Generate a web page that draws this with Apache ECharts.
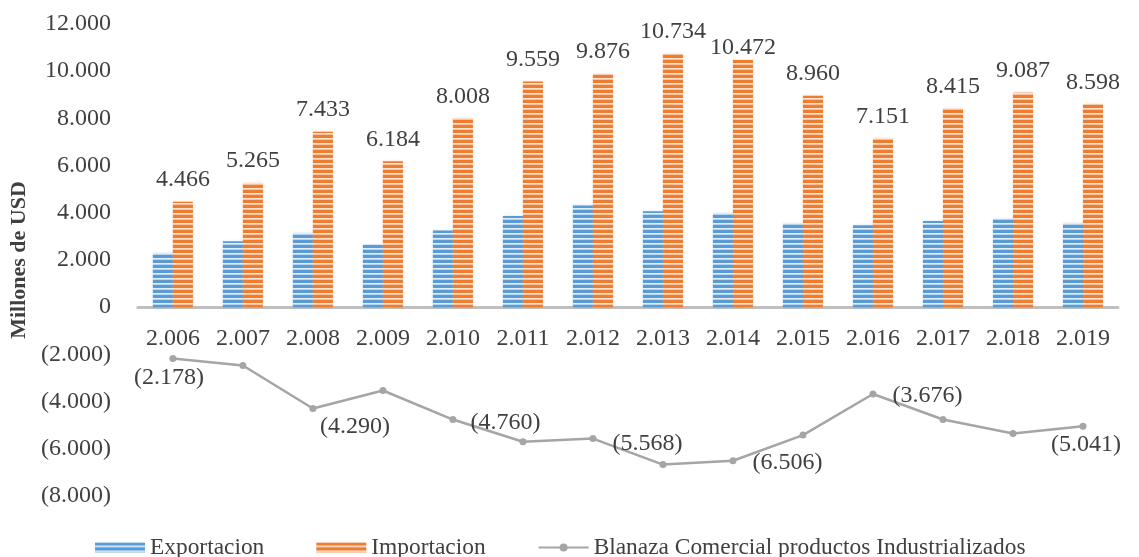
<!DOCTYPE html>
<html>
<head>
<meta charset="utf-8">
<script src="https://cdn.jsdelivr.net/npm/echarts@6/dist/echarts.min.js"></script>
<style>
html,body{margin:0;padding:0;background:#fff;}
#chart{width:1139px;height:557px;}
</style>
</head>
<body>
<div id="chart"></div>
<script>
// ---- data ----
const categories = ['2.006','2.007','2.008','2.009','2.010','2.011','2.012','2.013','2.014','2.015','2.016','2.017','2.018','2.019'];
const exportacion = [2288, 2795, 3143, 2650, 3248, 3860, 4308, 4064, 3966, 3540, 3475, 3655, 3737, 3557];
const importacion = [4466, 5265, 7433, 6184, 8008, 9559, 9876, 10734, 10472, 8960, 7151, 8415, 9087, 8598];
const balanza = [-2178, -2470, -4290, -3530, -4760, -5700, -5568, -6670, -6506, -5420, -3676, -4760, -5350, -5041];
const seriesNames = ['Exportacion', 'Importacion', 'Blanaza Comercial productos Industrializados'];
const yMin = -8000, yMax = 12000, yStep = 2000;

// ---- styles ----
const FONT = "'Liberation Serif', 'Times New Roman', serif";
const TEXT = '#404040';
function fmtNum(v) {
  const s = Math.abs(Math.round(v)).toString().replace(/\B(?=(\d{3})+(?!\d))/g, '.');
  return v < 0 ? '(' + s + ')' : s;
}
function stripe(base, line) {
  const c = document.createElement('canvas');
  c.width = 8; c.height = 5;
  const g = c.getContext('2d');
  g.fillStyle = base; g.fillRect(0, 0, 8, 5);
  g.fillStyle = line; g.fillRect(0, 3, 8, 1.7);
  return { image: c, repeat: 'repeat' };
}
const bluePat = stripe('#5B9BD5', 'rgba(232,242,251,0.95)');
const orangePat = stripe('#ED7D31', 'rgba(252,232,218,0.95)');

// label placement style for line points (by index)
const balLabelStyle = {
  0: { position: 'bottom', distance: 4, offset: [-4, 0] },
  2: { position: 'bottom', distance: 3, offset: [42, 0] },
  4: { position: 'right', distance: 16, offset: [-2, 3] },
  6: { position: 'right', distance: 16, offset: [0, 5] },
  8: { position: 'right', distance: 16, offset: [0, 2] },
  10: { position: 'right', distance: 16, offset: [0, 2] },
  13: { position: 'bottom', distance: 3, offset: [3, 0] }
};
const impLabelStyle = { 8: { offset: [0, 10] } };

const balData = balanza.map((v, i) => {
  const st = balLabelStyle[i];
  return st ? { value: v, label: Object.assign({ show: true }, st) } : { value: v };
});
const impData = importacion.map((v, i) => {
  const st = impLabelStyle[i];
  return st ? { value: v, label: st } : v;
});

const chart = echarts.init(document.getElementById('chart'), null, { renderer: 'canvas' });
chart.setOption({
  animation: false,
  backgroundColor: '#fff',
  textStyle: { fontFamily: FONT, color: TEXT },
  grid: { left: 135, right: 21, top: 24, bottom: 61, containLabel: false },
  legend: {
    left: 90, top: 531,
    itemWidth: 50, itemHeight: 10, itemGap: 52,
    textStyle: { fontFamily: FONT, fontSize: 23.4, color: TEXT },
    data: [
      { name: seriesNames[0], icon: 'rect' },
      { name: seriesNames[1], icon: 'rect' },
      { name: seriesNames[2] }
    ]
  },
  xAxis: {
    type: 'category',
    data: categories,
    position: 'bottom',
    axisLine: { onZero: false, lineStyle: { color: '#BFBFBF', width: 3 } },
    axisTick: { show: false },
    axisLabel: { fontFamily: FONT, fontSize: 24, color: TEXT, margin: 20, interval: 0 }
  },
  yAxis: {
    type: 'value',
    min: yMin, max: yMax, interval: yStep,
    name: 'Millones de USD',
    nameLocation: 'middle',
    nameGap: 101,
    nameTextStyle: { fontFamily: FONT, fontSize: 22, fontWeight: 'bold', color: TEXT },
    axisLine: { show: false },
    axisTick: { show: false },
    splitLine: { show: false },
    axisLabel: { fontFamily: FONT, fontSize: 24, color: TEXT, margin: 27, formatter: fmtNum }
  },
  series: [
    {
      name: seriesNames[0], type: 'bar', data: exportacion,
      barWidth: 20, barGap: '0%',
      itemStyle: { color: bluePat, shadowColor: 'rgba(91,155,213,0.35)', shadowBlur: 2 }
    },
    {
      name: seriesNames[1], type: 'bar', data: impData,
      barWidth: 20, barGap: '0%',
      itemStyle: { color: orangePat, shadowColor: 'rgba(237,125,49,0.35)', shadowBlur: 2 },
      label: {
        show: true, position: 'top', distance: 10,
        fontFamily: FONT, fontSize: 24, color: TEXT,
        formatter: p => fmtNum(p.value)
      }
    },
    {
      name: seriesNames[2], type: 'line', data: balData,
      symbol: 'circle', symbolSize: 7,
      lineStyle: { color: '#A5A5A5', width: 2.5 },
      itemStyle: { color: '#A5A5A5' },
      label: {
        show: false,
        fontFamily: FONT, fontSize: 24, color: TEXT,
        formatter: p => fmtNum(p.value)
      },
      z: 5
    }
  ]
});
// move the category axis (line + labels) up to the zero level of the value axis
const zeroY = chart.convertToPixel({ yAxisIndex: 0 }, 0);
const bottomY = chart.convertToPixel({ yAxisIndex: 0 }, yMin);
chart.setOption({ xAxis: { offset: -(bottomY - zeroY) } });
</script>
</body>
</html>
